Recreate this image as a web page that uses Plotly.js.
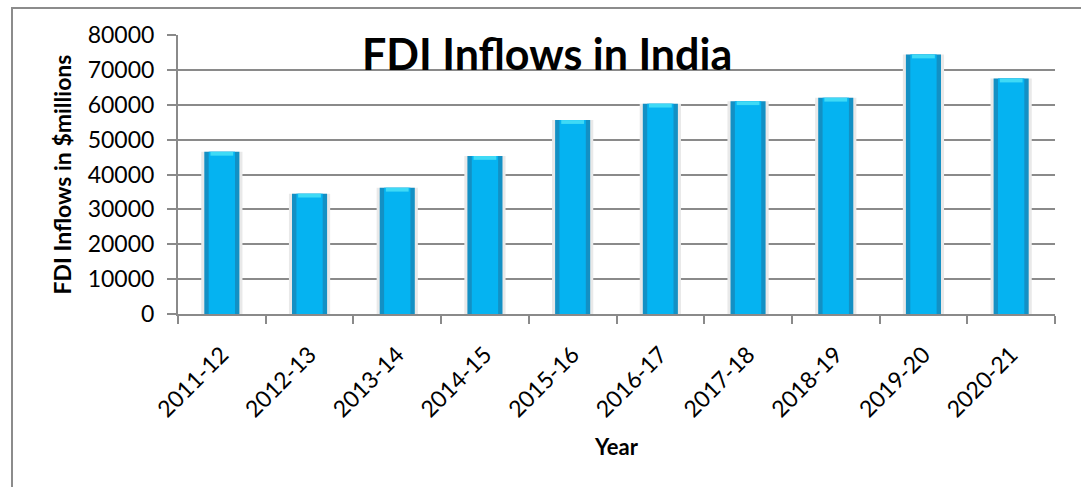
<!DOCTYPE html>
<html>
<head>
<meta charset="utf-8">
<script src="https://cdn.plot.ly/plotly-3.0.1.min.js"></script>
<style>
  html, body { margin: 0; padding: 0; background: #ffffff; overflow: hidden; }
  #frame { position: absolute; left: 11px; top: 7px; width: 1100px; height: 520px; border: 2px solid #8c8c8c; box-sizing: border-box; }
  #chart { position: absolute; left: 0; top: 0; width: 1081px; height: 487px; }
</style>
</head>
<body>
<div id="frame"></div>
<div id="chart"></div>
<script>
const years = ["2011-12", "2012-13", "2013-14", "2014-15", "2015-16", "2016-17", "2017-18", "2018-19", "2019-20", "2020-21"];
const fdiInflows = [46500, 34500, 36200, 45300, 55600, 60300, 61000, 62000, 74400, 67500];
const yTicks = [0, 10000, 20000, 30000, 40000, 50000, 60000, 70000, 80000];

const fam = "Lato, 'Liberation Sans', sans-serif";
const tickFont = { family: fam, size: 23, color: "#000000" };
const capDepth = 1100; // visual highlight depth of the bar cap (style only)

const traces = [
  { type: "bar", x: years, y: fdiInflows, width: 0.47, marker: { color: "#e9e9e9", line: { width: 0 } }, hoverinfo: "skip", showlegend: false },
  { type: "bar", x: years, y: fdiInflows, width: 0.40, marker: { color: "#1390c4", line: { width: 0 } }, showlegend: false },
  { type: "bar", x: years, y: fdiInflows, width: 0.30, marker: { color: "#05b3f1", line: { width: 0 } }, hoverinfo: "skip", showlegend: false },
  { type: "bar", x: years, y: fdiInflows.map(() => capDepth), base: fdiInflows.map(v => v - capDepth), width: 0.26, marker: { color: "#3fdaf6", line: { width: 0 } }, hoverinfo: "skip", showlegend: false }
];

const layout = {
  width: 1081, height: 487,
  margin: { l: 178, r: 26, t: 35, b: 173 },
  paper_bgcolor: "rgba(0,0,0,0)",
  plot_bgcolor: "rgba(0,0,0,0)",
  barmode: "overlay",
  xaxis: {
    type: "category",
    tickangle: -45,
    tickfont: tickFont,
    ticklabelstandoff: 16,
    showline: true, linecolor: "#8a8a8a", linewidth: 2,
    ticks: "outside", ticklen: 8, tickcolor: "#8a8a8a", tickwidth: 2,
    tickson: "boundaries",
    showgrid: false,
    title: { text: "<b>Year</b>", font: { family: fam, size: 22, color: "#000" }, standoff: 18 }
  },
  yaxis: {
    range: [0, 80000],
    tickvals: yTicks,
    ticktext: yTicks.map(String),
    tickfont: tickFont,
    ticklabelstandoff: 8,
    showline: true, linecolor: "#8a8a8a", linewidth: 2,
    ticks: "outside", ticklen: 9, tickcolor: "#8a8a8a", tickwidth: 2,
    showgrid: true, gridcolor: "#8a8a8a", gridwidth: 2,
    zeroline: false,
    title: { text: "<b>FDI Inflows in $millions</b>", font: { family: fam, size: 23, color: "#000" }, standoff: 10 }
  },
  annotations: [
    {
      text: "<b>FDI Inflows in India</b>",
      xref: "paper", yref: "paper",
      x: 0.421, y: 0.935,
      xanchor: "center", yanchor: "middle",
      showarrow: false,
      font: { family: fam, size: 43, color: "#000" }
    }
  ]
};

Plotly.newPlot("chart", traces, layout, { displayModeBar: false, staticPlot: true });
</script>
</body>
</html>
